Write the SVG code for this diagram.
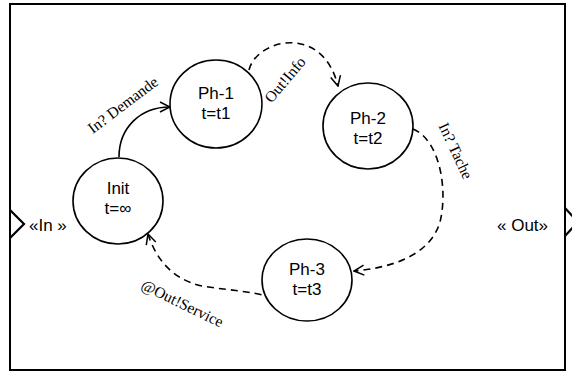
<svg xmlns="http://www.w3.org/2000/svg" width="572" height="373" viewBox="0 0 572 373">
<style>
.st{fill:#fff;stroke:#000;stroke-width:1.6}
.nl{font-family:"Liberation Sans",Arial,sans-serif;font-size:17px;text-anchor:middle;fill:#000}
.port{font-family:"Liberation Sans",Arial,sans-serif;font-size:17px;fill:#000}
.el{font-family:"Liberation Serif","Times New Roman",serif;font-size:15.5px;fill:#000;text-anchor:middle}
.cn{fill:none;stroke:#000;stroke-width:1.6}
.da{stroke-dasharray:7,5}
</style>
<defs>
<marker id="arr" viewBox="0 0 12 12" refX="11" refY="6" markerWidth="12" markerHeight="12" markerUnits="userSpaceOnUse" orient="auto">
<path d="M1,1 L11,6 L1,11" fill="none" stroke="#000" stroke-width="1.5"/>
</marker>
</defs>
<rect x="10" y="4" width="555" height="366" fill="#fff" stroke="#000" stroke-width="2"/>
<g id="port-in">
<path d="M10,210 L24,224 L10,238" fill="none" stroke="#000" stroke-width="2.2"/>
<text class="port" x="29" y="231">«In »</text>
</g>
<g id="port-out">
<path d="M565,208 L578,222 L565,236" fill="none" stroke="#000" stroke-width="2.2"/>
<text class="port" x="497" y="231">« Out»</text>
</g>
<g id="connectors">
<path class="cn" d="M119,157 C119,128 140,107 170,107" marker-end="url(#arr)"/>
<path class="cn da" d="M249,70 C256,40 322,22 338,86" marker-end="url(#arr)"/>
<path class="cn da" d="M413,129 C440,140 448,190 440,222 C430,256 390,268 354,271" marker-end="url(#arr)"/>
<path class="cn da" d="M272,300 C266,292 232,291 202,286 C170,279 155,256 148,234" marker-end="url(#arr)"/>
<circle cx="272" cy="300" r="1.8" fill="#000"/>
<text class="el" transform="translate(126,109) rotate(-37)">In? Demande</text>
<text class="el" transform="translate(289,83) rotate(-50)">Out!Info</text>
<text class="el" transform="translate(451,153) rotate(65)">In? Tache</text>
<text class="el" transform="translate(180,308) rotate(26)" fill="#333">@Out!Service</text>
</g>
<g id="Init">
<ellipse class="st" cx="118" cy="201" rx="45" ry="43"/>
<text class="nl" x="118" y="194">Init</text>
<text class="nl" x="118" y="214">t=∞</text>
</g>
<g id="Ph-1">
<ellipse class="st" cx="216" cy="104" rx="46" ry="44"/>
<text class="nl" x="216" y="99">Ph-1</text>
<text class="nl" x="216" y="119">t=t1</text>
</g>
<g id="Ph-2">
<ellipse class="st" cx="368" cy="126" rx="45" ry="43"/>
<text class="nl" x="368" y="124">Ph-2</text>
<text class="nl" x="368" y="144">t=t2</text>
</g>
<g id="Ph-3">
<ellipse class="st" cx="307" cy="280" rx="45" ry="41"/>
<text class="nl" x="307" y="275">Ph-3</text>
<text class="nl" x="307" y="295">t=t3</text>
</g>
</svg>
